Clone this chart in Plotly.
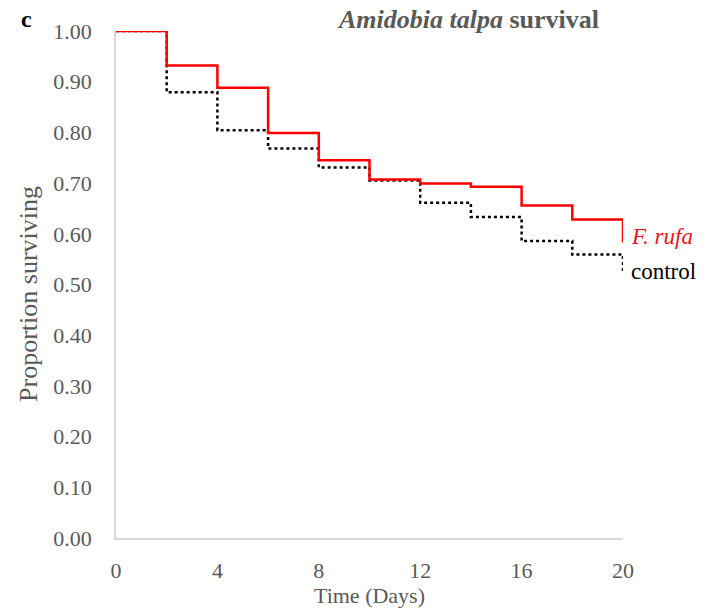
import plotly.graph_objects as go

days = [0, 2, 4, 6, 8, 10, 12, 14, 16, 18, 20]
f_rufa = [1.0, 0.932, 0.888, 0.799, 0.745, 0.707, 0.699, 0.693, 0.656, 0.628, 0.583]
control = [1.0, 0.879, 0.804, 0.768, 0.731, 0.705, 0.661, 0.633, 0.586, 0.559, 0.522]
x_ticks = [0, 4, 8, 12, 16, 20]
y_ticks = [0.0, 0.1, 0.2, 0.3, 0.4, 0.5, 0.6, 0.7, 0.8, 0.9, 1.0]

FONT = "Liberation Serif"
GREY = "#595959"

fig = go.Figure()
fig.add_trace(go.Scatter(x=days, y=control, mode="lines", line_shape="hv",
                         line=dict(color="black", width=2.5, dash="dot"), name="control"))
fig.add_trace(go.Scatter(x=days, y=f_rufa, mode="lines", line_shape="hv",
                         line=dict(color="#FF0000", width=2.5), name="F. rufa"))

fig.update_layout(
    width=707, height=613,
    margin=dict(l=116, r=84, t=31, b=71),
    paper_bgcolor="white", plot_bgcolor="white",
    showlegend=False,
    font=dict(family=FONT, size=22, color=GREY),
    xaxis=dict(range=[0, 20], tickvals=x_ticks, ticktext=[str(v) for v in x_ticks],
               showgrid=False, zeroline=False, showline=True, linecolor="#D9D9D9", linewidth=1.5,
               ticks="", ticklabelstandoff=12,
               title=dict(text="Time (Days)", font=dict(size=22, color=GREY), standoff=2)),
    yaxis=dict(range=[0, 1.0], tickvals=y_ticks, ticktext=[f"{v:.2f}" for v in y_ticks],
               showgrid=False, zeroline=False, showline=True, linecolor="#D9D9D9", linewidth=1.5,
               ticks="", ticklabelstandoff=18),
)

# y-axis title placed as rotated annotation
fig.add_annotation(x=(29 - 116) / 507, y=(542 - 296) / 511, xref="paper", yref="paper",
                   xanchor="center", yanchor="middle", textangle=-90, showarrow=False,
                   text="Proportion surviving", font=dict(size=26, color=GREY, family=FONT))
fig.add_annotation(x=(468 - 116) / 507, y=1 + (31 - 19) / 511, xref="paper", yref="paper",
                   xanchor="center", yanchor="middle", showarrow=False,
                   text="<b><i>Amidobia talpa</i> survival</b>", font=dict(size=26, color=GREY, family=FONT))
fig.add_annotation(x=(19 - 116) / 507, y=1 + (31 - 19) / 511, xref="paper", yref="paper",
                   xanchor="left", yanchor="middle", showarrow=False,
                   text="<b>c</b>", font=dict(size=24, color="black", family=FONT))
fig.add_annotation(x=20, y=f_rufa[-1] + 0.012, xref="x", yref="y", xanchor="left", yanchor="middle",
                   xshift=6, showarrow=False,
                   text="<i>F. rufa</i>", font=dict(size=23, color="#E8151B", family=FONT))
fig.add_annotation(x=20, y=control[-1] + 0.004, xref="x", yref="y", xanchor="left", yanchor="middle",
                   xshift=6, showarrow=False,
                   text="control", font=dict(size=23, color="black", family=FONT))

fig.write_html("out.html")
